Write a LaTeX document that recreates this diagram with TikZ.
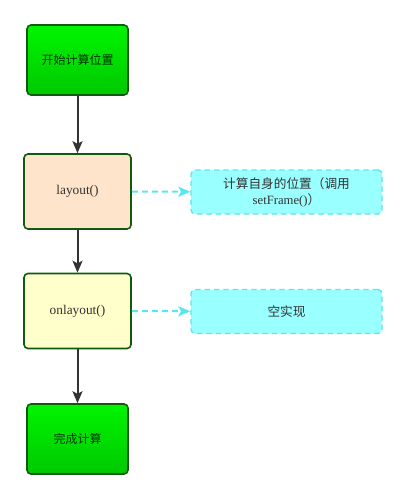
\documentclass[tikz,border=0pt]{standalone}
\usepackage{fontspec}
\setmainfont{Liberation Serif}
\newfontfamily\cjk{Noto Sans CJK SC}
\usetikzlibrary{positioning,arrows.meta,shapes.geometric}

\definecolor{startgreen}{RGB}{0,225,0}
\definecolor{startgreentop}{RGB}{0,245,0}
\definecolor{startgreenbot}{RGB}{0,200,0}
\definecolor{edgegreen}{RGB}{16,90,16}
\definecolor{peach}{RGB}{255,228,204}
\definecolor{paleyellow}{RGB}{255,255,204}
\definecolor{notecyan}{RGB}{153,255,255}
\definecolor{dashcyan}{RGB}{90,230,240}
\definecolor{textgray}{RGB}{50,50,50}

\begin{document}
\begin{tikzpicture}[x=0.75pt,y=-0.75pt]

  \tikzstyle{terminal} = [draw=edgegreen, line width=1.2pt, rounded corners=3pt, top color=startgreentop, bottom color=startgreenbot, minimum width=75.75pt, minimum height=52.5pt, font=\cjk\fontsize{9}{11}\selectfont, text=black!80!green]
  \tikzstyle{step box} = [draw=edgegreen, line width=1.2pt, rounded corners=3pt, minimum width=80.25pt, minimum height=56.25pt, font=\fontsize{10}{12}\selectfont, text=textgray]
  \tikzstyle{note} = [draw=dashcyan, dash pattern=on 4pt off 3pt, line width=1pt, fill=notecyan, rounded corners=3pt, minimum width=143.25pt, minimum height=33pt, align=center, font=\fontsize{9.5}{12}\selectfont, text=textgray]
  \tikzstyle{flow} = [-{Stealth[length=9pt,width=7.5pt,inset=2pt]}, line width=1.5pt, color=black!80]
  \tikzstyle{hint} = [-{Stealth[length=9pt,width=7.5pt,inset=2pt]}, dash pattern=on 4.5pt off 3pt, line width=1.5pt, color=dashcyan]

  \useasboundingbox (0,0) rectangle (404,499);

  \node[terminal] (start) at (77.5,60) {开始计算位置};
  \node[step box, fill=peach] (layout) at (77.5,191.5) {layout()};
  \node[step box, fill=paleyellow] (onlayout) at (77.5,311) {onlayout()};
  \node[terminal] (done) at (77.5,439) {完成计算};

  \node[note] (setframe) at (286.5,192) {{\cjk 计算自身的位置（调用}\\setFrame(){\cjk ）}};
  \node[note] (empty) at (286.5,311.5) {\cjk 空实现};

  \draw[flow] (start) -- (layout);
  \draw[flow] (layout) -- (onlayout);
  \draw[flow] (onlayout) -- (done);
  \draw[hint] (layout) -- (setframe);
  \draw[hint] (onlayout) -- (empty);

\end{tikzpicture}
\end{document}
